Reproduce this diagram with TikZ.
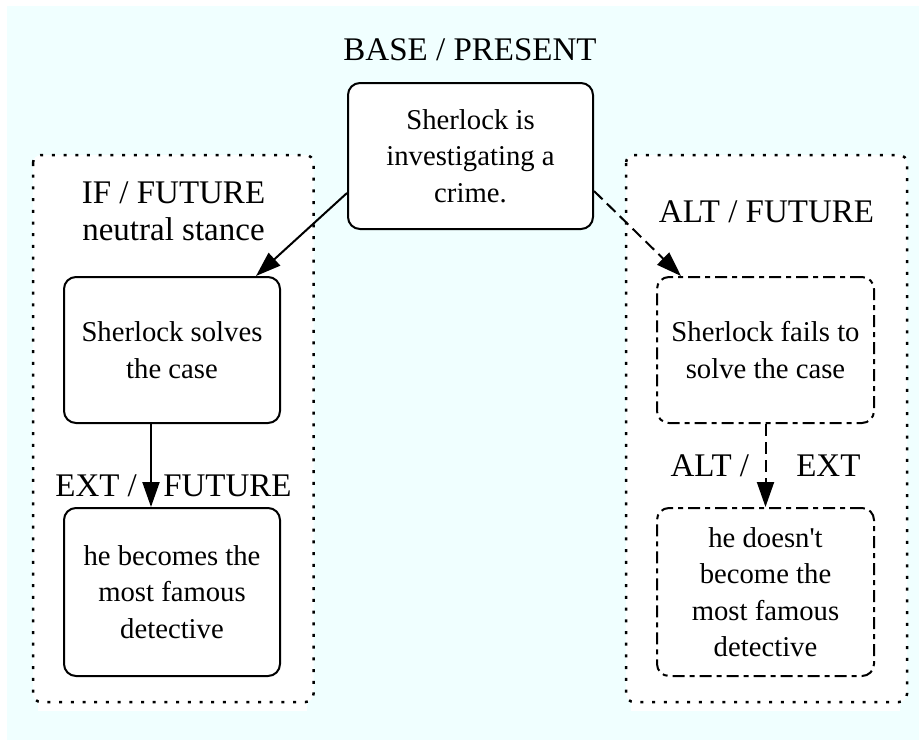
\documentclass[tikz,border=0pt]{standalone}
\usepackage{fontspec}
\setmainfont{Liberation Serif}
\usetikzlibrary{arrows.meta,calc}
\definecolor{bgcyan}{HTML}{F0FFFF}
\begin{document}
\begin{tikzpicture}[x=1pt,y=-1pt,
  box/.style={draw, line width=2pt, rounded corners=12pt, fill=white, align=center,
    font=\fontsize{28.7}{36.5}\selectfont, inner sep=0pt},
  dbox/.style={box, dash pattern=on 12pt off 5pt on 5pt off 5pt},
  cluster/.style={draw, line width=2.5pt, rounded corners=8pt, dash pattern=on 3pt off 8.7pt, fill=white},
  strip/.style={fill=white, draw=none},
  lab/.style={font=\fontsize{33}{37}\selectfont, align=center, inner sep=0pt, anchor=base},
  arr/.style={line width=2pt, -{Triangle[length=25pt,width=17pt]}},
  darr/.style={line width=2pt, dash pattern=on 12pt off 6pt, -{Triangle[length=25pt,width=17pt]}}]
\useasboundingbox (0,0) rectangle (919,740);
\fill[bgcyan] (7,6) rectangle (919,740);
% clusters
\fill[strip] (38,700) rectangle (307,711);
\fill[strip] (631,700) rectangle (900,711);
\draw[cluster] (33,155) rectangle (313.5,702);
\draw[cluster] (626,155) rectangle (907,702);
% nodes
\node[box, minimum width=245pt, minimum height=146pt] (top) at (470.5,156) {Sherlock is\\investigating a\\crime.};
\node[box, minimum width=216pt, minimum height=146pt] (l1) at (172,350) {Sherlock solves\\the case};
\node[box, minimum width=216pt, minimum height=168pt] (l2) at (172,592) {he becomes the\\most famous\\detective};
\node[dbox, minimum width=217pt, minimum height=146pt] (r1) at (765.5,350) {Sherlock fails to\\solve the case};
\node[dbox, minimum width=217pt, minimum height=168pt] (r2) at (765.5,592) {he doesn\textquotesingle t\\become the\\most famous\\detective};
% labels
\node[lab] (baselab) at (470,60) {BASE / PRESENT};
\node[lab] (iflab) at (173.5,240) {IF / FUTURE\\neutral stance};
\node[lab] (altlab) at (766.5,222) {ALT / FUTURE};
\node[lab] (extlab) at (173.5,496) {EXT /\hspace{26.4pt}FUTURE};
\node[lab] (altext) at (765.5,476) {ALT /\hspace{47.2pt}EXT};
% edges
\draw[arr] ([yshift=-37pt]top.west) -- ([xshift=-25pt]l1.north east);
\draw[darr] ([yshift=-35pt]top.east) -- ([xshift=25pt]r1.north west);
\draw[arr] ([xshift=-21pt]l1.south) -- ([xshift=-21pt]l2.north);
\draw[darr] (r1.south) -- (r2.north);
\end{tikzpicture}
\end{document}
